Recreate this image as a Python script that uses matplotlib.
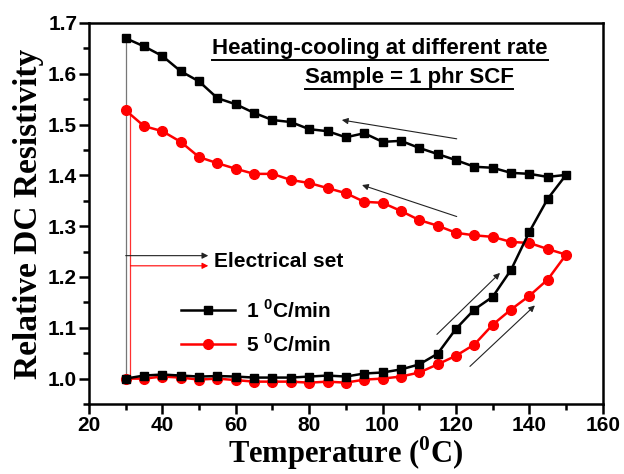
import matplotlib
matplotlib.use("Agg")
import matplotlib.pyplot as plt
from matplotlib.lines import Line2D
from matplotlib.ticker import MultipleLocator

SANS = "Liberation Sans"
SERIF = "Liberation Serif"

plt.rcParams["font.family"] = SANS
plt.rcParams["font.weight"] = "bold"
plt.rcParams["mathtext.fontset"] = "custom"
plt.rcParams["mathtext.rm"] = "Liberation Serif:bold"
plt.rcParams["mathtext.sf"] = "Liberation Sans:bold"

# Temperature steps (heating 30 -> 150, cooling back 150 -> 30)
temps = [30, 35, 40, 45, 50, 55, 60, 65, 70, 75, 80, 85, 90,
         95, 100, 105, 110, 115, 120, 125, 130, 135, 140, 145, 150]

# 1 C/min run
slow_heat = [1.000, 1.006, 1.008, 1.006, 1.004, 1.005, 1.004, 1.002, 1.002,
             1.002, 1.004, 1.006, 1.004, 1.010, 1.012, 1.018, 1.028, 1.049,
             1.098, 1.136, 1.161, 1.214, 1.289, 1.354, 1.401]
slow_cool = [1.670, 1.654, 1.635, 1.605, 1.585, 1.552, 1.540, 1.523, 1.509,
             1.505, 1.491, 1.487, 1.475, 1.483, 1.466, 1.468, 1.454, 1.442,
             1.430, 1.417, 1.415, 1.405, 1.403, 1.397, 1.401]

# 5 C/min run
fast_heat = [1.000, 1.000, 1.004, 1.002, 0.998, 1.000, 0.997, 0.994, 0.994,
             0.994, 0.992, 0.994, 0.992, 0.998, 1.000, 1.004, 1.012, 1.028,
             1.045, 1.067, 1.106, 1.136, 1.163, 1.195, 1.244]
fast_cool = [1.528, 1.497, 1.487, 1.466, 1.436, 1.424, 1.413, 1.403, 1.403,
             1.391, 1.385, 1.375, 1.365, 1.348, 1.346, 1.330, 1.312, 1.301,
             1.287, 1.282, 1.279, 1.269, 1.267, 1.255, 1.244]

x_ticks = [20, 40, 60, 80, 100, 120, 140, 160]
y_ticks = [1.0, 1.1, 1.2, 1.3, 1.4, 1.5, 1.6, 1.7]
x_labels = ["20", "40", "60", "80", "100", "120", "140", "160"]
y_labels = ["1.0", "1.1", "1.2", "1.3", "1.4", "1.5", "1.6", "1.7"]

fig = plt.figure(figsize=(6.24, 4.74), dpi=100)
ax = fig.add_axes([0.1426, 0.1477, 0.8234, 0.8038])


def loop(heat, cool):
    xs = temps + temps[::-1][1:]
    ys = heat + cool[::-1][1:]
    return xs, ys


xs, ys = loop(slow_heat, slow_cool)
ax.plot(xs, ys, color="black", lw=1.8, marker="s", ms=6.2, zorder=4)
xs, ys = loop(fast_heat, fast_cool)
ax.plot(xs, ys, color="#ff0000", lw=1.8, marker="o", ms=7, zorder=3)

# reset lines back to the starting value
ax.plot([temps[0], temps[0]], [slow_cool[0], slow_heat[0]], color="#777777", lw=0.9, zorder=2)
ax.plot([31.3, 31.3], [fast_cool[0], fast_heat[0]], color="#ff3030", lw=0.9, zorder=2)

arrow = dict(arrowstyle="-|>", lw=0.8, color="#222222", mutation_scale=9,
             shrinkA=0, shrinkB=0)
ax.annotate("", xy=(52.5, 1.242), xytext=(30, 1.242), arrowprops=arrow)
ax.annotate("", xy=(52.5, 1.222), xytext=(31.3, 1.222),
            arrowprops=dict(arrow, color="#ff0000"))
ax.text(54.0, 1.230, "Electrical set", fontsize=15, va="center", ha="left")

# direction arrows
ax.annotate("", xy=(88.9, 1.509), xytext=(120.2, 1.472), arrowprops=arrow)
ax.annotate("", xy=(94.4, 1.381), xytext=(120.2, 1.319), arrowprops=arrow)
ax.annotate("", xy=(132.0, 1.208), xytext=(114.8, 1.087), arrowprops=arrow)
ax.annotate("", xy=(141.5, 1.144), xytext=(123.8, 1.024), arrowprops=arrow)

t1 = ax.text(99.3, 1.650, "Heating-cooling at different rate", fontsize=16,
             ha="center", va="center")
t2 = ax.text(107.2, 1.592, "Sample = 1 phr SCF", fontsize=16,
             ha="center", va="center")

handles = [Line2D([], [], color="black", lw=1.8, marker="s", ms=6.2),
           Line2D([], [], color="#ff0000", lw=1.8, marker="o", ms=7)]
leg = ax.legend(handles, [r"1 $^{\mathsf{0}}$C/min", r"5 $^{\mathsf{0}}$C/min"],
                loc="upper left", bbox_to_anchor=(0.143, 0.325), frameon=False,
                handlelength=2.6, handletextpad=0.5, labelspacing=0.55,
                prop={"family": SANS, "weight": "bold", "size": 15})

ax.set_xlim(20, 160)
ax.set_ylim(0.95, 1.7)
ax.set_xticks(x_ticks)
ax.set_xticklabels(x_labels)
ax.set_yticks(y_ticks)
ax.set_yticklabels(y_labels)
ax.xaxis.set_minor_locator(MultipleLocator(10))
ax.yaxis.set_minor_locator(MultipleLocator(0.05))
ax.tick_params(which="both", direction="out", width=1.8, top=False, right=False,
               labelsize=15)
ax.tick_params(which="major", length=7, pad=1.5)
ax.tick_params(which="minor", length=4.5)
for sp in ax.spines.values():
    sp.set_linewidth(1.8)

ax.set_xlabel(r"Temperature ($^{\mathrm{0}}$C)", family=SERIF, fontweight="bold",
              fontsize=22, labelpad=0)
ax.set_ylabel("Relative DC Resistivity", family=SERIF, fontweight="bold",
              fontsize=24, labelpad=3)

fig.canvas.draw()
for lab in ax.get_xticklabels() + ax.get_yticklabels():
    lab.set_fontweight("bold")
    lab.set_fontsize(15)

# underline the two header lines
renderer = fig.canvas.get_renderer()
inv = ax.transAxes.inverted()
for t in (t1, t2):
    bb = t.get_window_extent(renderer)
    (x0, y0), (x1, _) = inv.transform([(bb.x0, bb.y0 - 1), (bb.x1, bb.y0 - 1)])
    ax.plot([x0, x1], [y0, y0], color="black", lw=1.4, transform=ax.transAxes,
            clip_on=False)

fig.savefig("out.png", dpi=100)
